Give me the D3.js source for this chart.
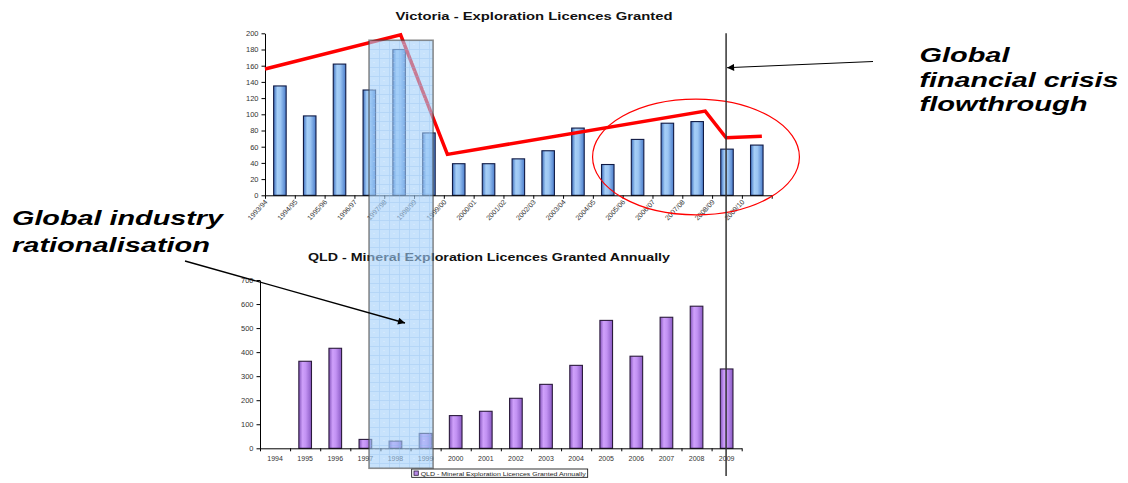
<!DOCTYPE html>
<html>
<head>
<meta charset="utf-8">
<script src="https://cdn.jsdelivr.net/npm/d3@7"></script>
<style>
  html, body { margin: 0; padding: 0; background: #fff; }
  svg { display: block; }
  text { font-family: "Liberation Sans", Arial, sans-serif; }
</style>
</head>
<body>
<svg id="chart" width="1128" height="483"></svg>
<script>
// ---------- data ----------
const vicCategories = ["1993/94","1994/95","1995/96","1996/97","1997/98","1998/99","1999/00","2000/01",
  "2001/02","2002/03","2003/04","2004/05","2005/06","2006/07","2007/08","2008/09","2009/10"];
const vicValues = [135, 98, 162, 130, 180, 77, 39, 39, 45, 55, 83, 38, 69, 89, 91, 57, 62];
const vicTicks = [0, 20, 40, 60, 80, 100, 120, 140, 160, 180, 200];

const qldYears = ["1994","1995","1996","1997","1998","1999","2000","2001","2002","2003",
  "2004","2005","2006","2007","2008","2009"];
const qldValues = [0, 362, 416, 37, 30, 62, 136, 154, 208, 266, 345, 532, 383, 545, 591, 330];
const qldTicks = [0, 100, 200, 300, 400, 500, 600, 700];

// hand-drawn trend line on the Victoria chart: [category position, value]
const vicTrendIdx = [0, 4.55, 6.12, 14.77, 15.47, 16.67];
const vicTrendVal = [156, 198, 50.5, 104, 71, 73];

const vicTitle = "Victoria - Exploration Licences Granted";
const qldTitle = "QLD - Mineral Exploration Licences Granted Annually";
const qldLegend = "QLD - Mineral Exploration Licences Granted Annually";
const noteIndustry = ["Global industry", "rationalisation"];
const noteCrisis = ["Global", "financial crisis", "flowthrough"];

// ---------- setup ----------
const svg = d3.select("#chart");
const defs = svg.append("defs");

function hGrad(id, stops) {
  const g = defs.append("linearGradient").attr("id", id)
    .attr("x1", "0%").attr("x2", "100%").attr("y1", "0%").attr("y2", "0%");
  stops.forEach(s => g.append("stop").attr("offset", s[0]).attr("stop-color", s[1]));
}
hGrad("blueBar", [["0%", "#3f70bf"], ["30%", "#a6cff7"], ["55%", "#9cc6f3"], ["100%", "#4a7ccb"]]);
hGrad("purpleBar", [["0%", "#8455bb"], ["30%", "#cfa0fb"], ["55%", "#c292f3"], ["100%", "#8a5ac4"]]);

const pat = defs.append("pattern").attr("id", "gridPat").attr("patternUnits", "userSpaceOnUse")
  .attr("width", 10).attr("height", 9).attr("x", 369).attr("y", 40);
pat.append("rect").attr("width", 10).attr("height", 9).attr("fill", "#a9d3fb").attr("opacity", 0.5);
pat.append("path").attr("d", "M0,0.5H10M0.5,0V9").attr("stroke", "#8ebff3").attr("stroke-width", 0.8).attr("opacity", 0.8);
pat.append("circle").attr("cx", 5).attr("cy", 4.5).attr("r", 0.5).attr("fill", "#ffffff").attr("opacity", 0.8);

const mk = defs.append("marker").attr("id", "arrow").attr("viewBox", "0 0 10 10")
  .attr("refX", 10).attr("refY", 5).attr("markerWidth", 9).attr("markerHeight", 7)
  .attr("markerUnits", "userSpaceOnUse").attr("orient", "auto");
mk.append("path").attr("d", "M0,0L10,5L0,10Z").attr("fill", "#000");

// ---------- Victoria chart ----------
const vx = d3.scaleBand().domain(vicCategories).range([265, 771.7]).padding(0);
const vxi = d3.scaleLinear().domain([0, vicCategories.length]).range([265, 771.7]);
const vy = d3.scaleLinear().domain([0, 200]).range([195.3, 33.3]);
const barFrac = 0.42;

const gVic = svg.append("g");
gVic.selectAll("rect.bar").data(vicValues).join("rect")
  .attr("class", "bar")
  .attr("x", (d, i) => vx(vicCategories[i]) + vx.bandwidth() * (1 - barFrac) / 2)
  .attr("width", vx.bandwidth() * barFrac)
  .attr("y", d => vy(d))
  .attr("height", d => vy(0) - vy(d))
  .attr("fill", "url(#blueBar)")
  .attr("stroke", "#101a44").attr("stroke-width", 1.1);

const vyAxis = gVic.append("g").attr("transform", `translate(${vxi(0)},0)`)
  .call(d3.axisLeft(vy).tickValues(vicTicks).tickSize(3.5).tickSizeOuter(0).tickPadding(3));
vyAxis.selectAll("text").attr("font-size", 7.5).attr("fill", "#333")
  .attr("font-family", "Liberation Sans, Arial, sans-serif");

const vxAxis = gVic.append("g").attr("transform", `translate(0,${vy(0)})`)
  .call(d3.axisBottom(vxi).tickValues(d3.range(0, vicCategories.length + 1)).tickSize(3.5)
    .tickSizeOuter(0).tickFormat(""));
[vyAxis, vxAxis].forEach(a => { a.selectAll("path,line").attr("stroke", "#000").attr("stroke-width", 1); });

gVic.selectAll("text.vlab").data(vicCategories).join("text")
  .attr("class", "vlab")
  .attr("transform", (d, i) => `translate(${vxi(i) + 3},${vy(0) + 7}) rotate(-47)`)
  .attr("text-anchor", "end")
  .attr("font-size", 7).attr("fill", "#333")
  .text(d => d);

gVic.append("text").attr("x", 534).attr("y", 20).attr("text-anchor", "middle")
  .attr("font-size", 10.5).attr("font-weight", "bold").attr("fill", "#111")
  .attr("textLength", 277).attr("lengthAdjust", "spacingAndGlyphs")
  .text(vicTitle);

// trend line
const trendLine = d3.line().x(d => vxi(d[0])).y(d => vy(d[1]));
gVic.append("path")
  .attr("d", trendLine(vicTrendIdx.map((v, i) => [v, vicTrendVal[i]])))
  .attr("fill", "none").attr("stroke", "#ff0000").attr("stroke-width", 3.5)
  .attr("stroke-linejoin", "miter");

// ---------- QLD chart ----------
const qx = d3.scaleBand().domain(qldYears).range([260, 741.7]).padding(0);
const qxi = d3.scaleLinear().domain([0, qldYears.length]).range([260, 741.7]);
const qy = d3.scaleLinear().domain([0, 700]).range([448.3, 280]);

const gQld = svg.append("g");
gQld.selectAll("rect.bar").data(qldValues).join("rect")
  .attr("class", "bar")
  .attr("x", (d, i) => qx(qldYears[i]) + qx.bandwidth() * (1 - barFrac) / 2)
  .attr("width", qx.bandwidth() * barFrac)
  .attr("y", d => qy(d))
  .attr("height", d => qy(0) - qy(d))
  .attr("fill", "url(#purpleBar)")
  .attr("stroke", "#2b1a3c").attr("stroke-width", d => d > 0 ? 1.1 : 0);

const qyAxis = gQld.append("g").attr("transform", `translate(${qxi(0)},0)`)
  .call(d3.axisLeft(qy).tickValues(qldTicks).tickSize(3.5).tickSizeOuter(0).tickPadding(3));
qyAxis.selectAll("text").attr("font-size", 7.5).attr("fill", "#333")
  .attr("font-family", "Liberation Sans, Arial, sans-serif");
const qxAxis = gQld.append("g").attr("transform", `translate(0,${qy(0)})`)
  .call(d3.axisBottom(qxi).tickValues(d3.range(0, qldYears.length + 1)).tickSize(3)
    .tickSizeOuter(0).tickFormat(""));
[qyAxis, qxAxis].forEach(a => { a.selectAll("path,line").attr("stroke", "#000").attr("stroke-width", 1); });

gQld.selectAll("text.qlab").data(qldYears).join("text")
  .attr("class", "qlab")
  .attr("x", d => qx(d) + qx.bandwidth() / 2)
  .attr("y", 461)
  .attr("text-anchor", "middle")
  .attr("font-size", 7).attr("fill", "#333")
  .text(d => d);

gQld.append("text").attr("x", 489).attr("y", 260.5).attr("text-anchor", "middle")
  .attr("font-size", 10.5).attr("font-weight", "bold").attr("fill", "#111")
  .attr("textLength", 362).attr("lengthAdjust", "spacingAndGlyphs")
  .text(qldTitle);

// legend
const lg = gQld.append("g");
lg.append("rect").attr("x", 411.7).attr("y", 469).attr("width", 176).attr("height", 8.3)
  .attr("fill", "#fff").attr("stroke", "#000").attr("stroke-width", 0.8);
lg.append("rect").attr("x", 414).attr("y", 471).attr("width", 4.3).attr("height", 4.3)
  .attr("fill", "#b98be8").attr("stroke", "#2b1a3c").attr("stroke-width", 0.8);
lg.append("text").attr("x", 420.7).attr("y", 475.6).attr("font-size", 6).attr("fill", "#222")
  .attr("textLength", 165).attr("lengthAdjust", "spacingAndGlyphs")
  .text(qldLegend);

// ---------- annotations ----------
const ann = svg.append("g");
// highlight rectangle over 1997/98-1998/99 (Vic) and 1997-1999 (QLD)
const hlX0 = vxi(3.49), hlX1 = vxi(5.64), hlY0 = vy(191.4), hlY1 = qy(-83);
ann.append("rect").attr("x", hlX0).attr("y", hlY0).attr("width", hlX1 - hlX0).attr("height", hlY1 - hlY0)
  .attr("fill", "#9ccaf8").attr("opacity", 0.42);
ann.append("rect").attr("x", hlX0).attr("y", hlY0).attr("width", hlX1 - hlX0).attr("height", hlY1 - hlY0)
  .attr("fill", "url(#gridPat)").attr("opacity", 0.6)
  .attr("stroke", "#444").attr("stroke-width", 1.6);

// ellipse around recent years
ann.append("ellipse").attr("cx", vxi(14.46)).attr("cy", vy(47.3))
  .attr("rx", vxi(3.47) - vxi(0)).attr("ry", vy(0) - vy(71.4))
  .attr("fill", "none").attr("stroke", "#ff0000").attr("stroke-width", 1.2);

// vertical marker line
const vLineX = vxi(15.47);
ann.append("line").attr("x1", vLineX).attr("x2", vLineX).attr("y1", vy(200)).attr("y2", 476)
  .attr("stroke", "#333").attr("stroke-width", 1.5);

// arrows
ann.append("line").attr("x1", 873).attr("y1", 61.5).attr("x2", vLineX + 1).attr("y2", 67.7)
  .attr("stroke", "#000").attr("stroke-width", 1).attr("marker-end", "url(#arrow)");
ann.append("line").attr("x1", 185).attr("y1", 261).attr("x2", 405).attr("y2", 323)
  .attr("stroke", "#000").attr("stroke-width", 1.3).attr("marker-end", "url(#arrow)");

// annotation text
const indW = [211, 198];
noteIndustry.forEach((t, i) => {
  ann.append("text").attr("x", 12).attr("y", 225 + i * 26.7)
    .attr("font-size", 21).attr("font-weight", "bold").attr("font-style", "italic").attr("fill", "#000")
    .attr("textLength", indW[i]).attr("lengthAdjust", "spacingAndGlyphs")
    .text(t);
});
const crW = [90, 199, 168];
noteCrisis.forEach((t, i) => {
  ann.append("text").attr("x", 919.5).attr("y", 62 + i * 24.5)
    .attr("font-size", 21).attr("font-weight", "bold").attr("font-style", "italic").attr("fill", "#000")
    .attr("textLength", crW[i]).attr("lengthAdjust", "spacingAndGlyphs")
    .text(t);
});
</script>
</body>
</html>
